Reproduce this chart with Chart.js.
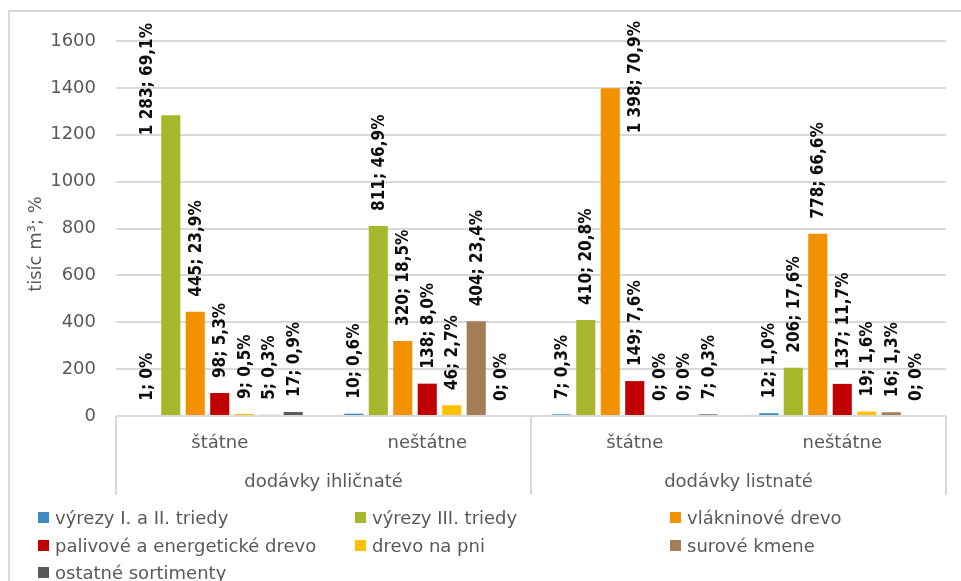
<!DOCTYPE html>
<html>
<head>
<meta charset="utf-8">
<script src="https://cdn.jsdelivr.net/npm/chart.js@4.4.0/dist/chart.umd.min.js"></script>
<style>
    html, body { margin: 0; padding: 0; background: #fff; }
    #wrap { position: relative; width: 961px; height: 581px; overflow: hidden; }
    #frame { position: absolute; left: 8px; top: 10px; width: 1000px; height: 700px; border: 2px solid #d9d9d9; }
    #myChart { position: absolute; left: 0; top: 0; }
    #legend { position: absolute; left: 38px; top: 504px; display: grid;
              grid-template-columns: 317px 315px 260px; grid-auto-rows: 27.5px;
              font-family: 'DejaVu Sans', sans-serif; font-size: 18px; color: #595959; }
    #legend div { display: flex; align-items: center; white-space: nowrap; }
    #legend span.box { width: 11px; height: 11px; margin-right: 6px; flex: none; }
</style>
</head>
<body>
<div id="wrap">
    <div id="frame"></div>
    <canvas id="myChart" width="961" height="581"></canvas>
    <div id="legend"></div>
</div>
<script>
const categories = ['štátne', 'neštátne', 'štátne', 'neštátne'];
const groups = ['dodávky ihličnaté', 'dodávky listnaté'];
const yTitle = 'tisíc m³; %';
const yMax = 1600;
const yStep = 200;

const seriesNames = ['výrezy I. a II. triedy', 'výrezy III. triedy', 'vlákninové drevo',
                     'palivové a energetické drevo', 'drevo na pni', 'surové kmene', 'ostatné sortimenty'];

// tisíc m3
const vyrezyI = [1, 10, 7, 12];
const vyrezyIII = [1283, 811, 410, 206];
const vlakninove = [445, 320, 1398, 778];
const palivove = [98, 138, 149, 137];
const drevoNaPni = [9, 46, 0, 19];
const suroveKmene = [5, 404, 0, 16];
const ostatne = [17, 0, 7, 0];

// podiel v %
const vyrezyIPct = [0, 0.6, 0.3, 1.0];
const vyrezyIIIPct = [69.1, 46.9, 20.8, 17.6];
const vlakninovePct = [23.9, 18.5, 70.9, 66.6];
const palivovePct = [5.3, 8.0, 7.6, 11.7];
const drevoNaPniPct = [0.5, 2.7, 0, 1.6];
const suroveKmenePct = [0.3, 23.4, 0, 1.3];
const ostatnePct = [0.9, 0, 0.3, 0];

const values = [vyrezyI, vyrezyIII, vlakninove, palivove, drevoNaPni, suroveKmene, ostatne];
const percents = [vyrezyIPct, vyrezyIIIPct, vlakninovePct, palivovePct, drevoNaPniPct, suroveKmenePct, ostatnePct];
const colors = ['#3f8cc2', '#a5b72a', '#f39200', '#c00000', '#ffc000', '#a57d57', '#595959'];

// labels that were dragged by hand in the original (pixels)
const labelNudge = {
    '1-0': { dx: -24.5, dy: 35 },
    '2-2': { dx: 24.5, dy: 60 }
};

const baseFont = "'DejaVu Sans', sans-serif";
const labelFont = "bold 17px 'DejaVu Sans Condensed', 'DejaVu Sans', sans-serif";

function fmtValue(v) {
    return String(v).replace(/\B(?=(\d{3})+(?!\d))/g, ' ');
}
function fmtPct(p) {
    return p === 0 ? '0%' : p.toFixed(1).replace('.', ',') + '%';
}

const extras = {
    id: 'extras',
    afterDraw(chart) {
        const { ctx, chartArea: { left, right, top, bottom }, scales: { x } } = chart;
        ctx.save();

        // two-level category axis
        const half = (x.getPixelForValue(1) - x.getPixelForValue(0)) / 2;
        ctx.strokeStyle = '#d9d9d9';
        ctx.lineWidth = 2;
        ctx.beginPath();
        ctx.moveTo(left, bottom);
        ctx.lineTo(right, bottom);
        ctx.stroke();
        for (let g = 0; g <= groups.length; g++) {
            const px = Math.round(x.getPixelForValue(g * 2) - half);
            ctx.beginPath();
            ctx.moveTo(px, bottom);
            ctx.lineTo(px, bottom + 79);
            ctx.stroke();
        }
        ctx.fillStyle = '#595959';
        ctx.font = '18px ' + baseFont;
        ctx.textAlign = 'center';
        ctx.textBaseline = 'middle';
        categories.forEach((c, i) => {
            ctx.fillText(c, x.getPixelForValue(i), bottom + 27);
        });
        groups.forEach((g, i) => {
            ctx.fillText(g, x.getPixelForValue(i * 2) + half, bottom + 66);
        });

        // y title
        ctx.translate(36, 244);
        ctx.rotate(-Math.PI / 2);
        ctx.fillText(yTitle, 0, 0);
        ctx.restore();
    },
    afterDatasetsDraw(chart) {
        const { ctx } = chart;
        ctx.save();
        ctx.font = labelFont;
        ctx.fillStyle = '#0d0d0d';
        ctx.textAlign = 'left';
        ctx.textBaseline = 'middle';
        chart.data.datasets.forEach((ds, i) => {
            chart.getDatasetMeta(i).data.forEach((bar, j) => {
                const n = labelNudge[i + '-' + j] || { dx: 0, dy: 0 };
                const text = fmtValue(values[i][j]) + '; ' + fmtPct(percents[i][j]);
                ctx.save();
                ctx.translate(bar.x + n.dx, bar.y - 15 + n.dy);
                ctx.rotate(-Math.PI / 2);
                ctx.fillText(text, 0, 1);
                ctx.restore();
            });
        });
        ctx.restore();
    }
};

const ctx = document.getElementById('myChart').getContext('2d');
const chart = new Chart(ctx, {
    type: 'bar',
    data: {
        labels: categories,
        datasets: values.map((v, i) => ({
            label: seriesNames[i],
            data: v,
            backgroundColor: colors[i],
            barPercentage: 0.78,
            categoryPercentage: 0.826
        }))
    },
    options: {
        responsive: false,
        animation: false,
        devicePixelRatio: 1,
        layout: { padding: { left: 20, top: 41, right: 15, bottom: 165 } },
        plugins: {
            legend: { display: false },
            tooltip: { enabled: false }
        },
        scales: {
            x: {
                grid: { display: false },
                ticks: { display: false },
                border: { display: false },
                afterFit(scale) { scale.height = 0; }
            },
            y: {
                min: 0,
                max: yMax,
                ticks: {
                    stepSize: yStep,
                    padding: 20,
                    color: '#595959',
                    font: { family: baseFont, size: 18 },
                    callback: v => String(v)
                },
                grid: { color: '#d9d9d9', lineWidth: 2, drawTicks: false },
                border: { display: false },
                afterFit(scale) { scale.width = 96; }
            }
        }
    },
    plugins: [extras]
});

const legend = document.getElementById('legend');
seriesNames.forEach((name, i) => {
    const item = document.createElement('div');
    item.innerHTML = '<span class="box" style="background:' + colors[i] + '"></span>' + name;
    legend.appendChild(item);
});
</script>
</body>
</html>
